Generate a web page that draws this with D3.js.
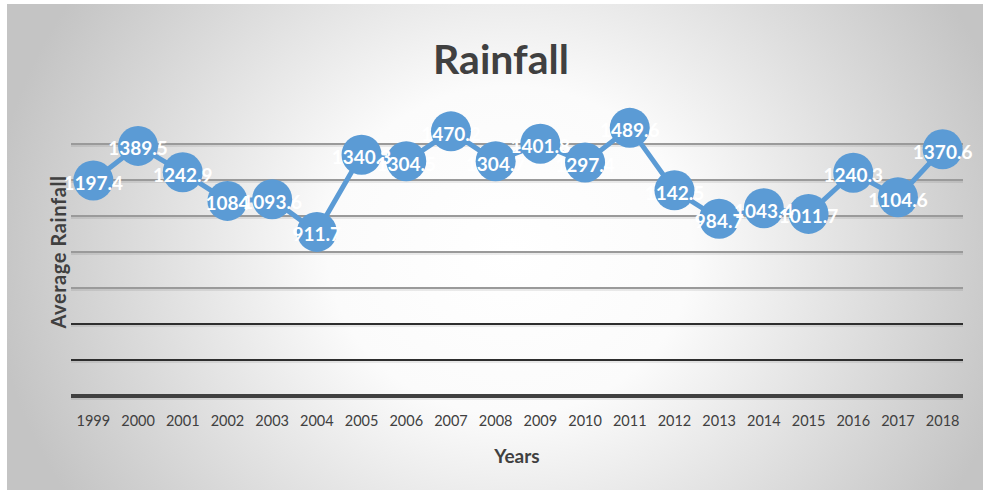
<!DOCTYPE html>
<html>
<head>
<meta charset="utf-8">
<script src="https://cdn.jsdelivr.net/npm/d3@7"></script>
<style>
  html, body { margin: 0; padding: 0; background: #ffffff; }
  svg { display: block; }
</style>
</head>
<body>
<svg id="chart" width="983" height="493"></svg>
<script>
// Annual average rainfall, 1999–2018
const years = ["1999","2000","2001","2002","2003","2004","2005","2006","2007","2008",
               "2009","2010","2011","2012","2013","2014","2015","2016","2017","2018"];
const rainfall = [1197.4, 1389.5, 1242.9, 1084, 1093.6, 911.7, 1340.3, 1304.5, 1470.2, 1304.7,
                  1401.8, 1297.4, 1489.6, 1142.5, 984.7, 1043.4, 1011.7, 1240.3, 1104.6, 1370.6];
const yTicks = [0, 200, 400, 600, 800, 1000, 1200, 1400];

const svg = d3.select("#chart");
const W = 983;
const FONT = "Lato, 'Open Sans', sans-serif";

// chart area background: soft gray edges fading to white in the middle
const defs = svg.append("defs");
const grad = defs.append("radialGradient")
  .attr("id", "bg").attr("gradientUnits", "userSpaceOnUse")
  .attr("cx", 510).attr("cy", 250).attr("r", 520)
  .attr("gradientTransform", "translate(510,250) scale(1,0.9) translate(-510,-250)");
grad.append("stop").attr("offset", "0%").attr("stop-color", "#ffffff");
grad.append("stop").attr("offset", "35%").attr("stop-color", "#fbfbfb");
grad.append("stop").attr("offset", "100%").attr("stop-color", "#c4c4c4");

svg.append("rect").attr("x", 7).attr("y", 4).attr("width", W - 7).attr("height", 486)
  .attr("fill", "url(#bg)");

const x = d3.scaleBand().domain(years).range([71, 965]);
const y = d3.scaleLinear().domain([0, 1400]).range([396, 144]);

// gridlines: light gray at the top, darker towards the baseline
const gridColor = v => v === 0 ? "#404040" : (v <= 400 ? "#2e2e2e" : "#9a9a9a");
const grid = svg.append("g");
grid.selectAll("line.shadow").data(yTicks).join("line")
  .attr("class", "shadow")
  .attr("x1", 71).attr("x2", 963)
  .attr("y1", d => y(d) + (d === 0 ? 3 : 2)).attr("y2", d => y(d) + (d === 0 ? 3 : 2))
  .attr("stroke", "#000").attr("stroke-opacity", 0.08).attr("stroke-width", 2);
grid.selectAll("line.main").data(yTicks).join("line")
  .attr("class", "main")
  .attr("x1", 71).attr("x2", 963)
  .attr("y1", d => y(d)).attr("y2", d => y(d))
  .attr("stroke", d => gridColor(d))
  .attr("stroke-width", d => d === 0 ? 4 : 2);

// category axis labels
const xAxis = d3.axisBottom(x).tickSize(0).tickPadding(0);
const gx = svg.append("g").attr("transform", "translate(0,416)").call(xAxis);
gx.select(".domain").remove();
gx.selectAll("text")
  .attr("font-family", FONT)
  .attr("font-size", 14.5)
  .attr("fill", "#404040")
  .attr("dy", "0.71em");

// series line
const cx = (d, i) => x(years[i]) + x.bandwidth() / 2;
const line = d3.line().x(cx).y(d => y(d));
svg.append("path").datum(rainfall)
  .attr("d", line)
  .attr("fill", "none")
  .attr("stroke", "#5b9bd5")
  .attr("stroke-width", 5)
  .attr("stroke-linejoin", "round");

// markers
svg.append("g").selectAll("circle").data(rainfall).join("circle")
  .attr("cx", cx).attr("cy", d => y(d)).attr("r", 20)
  .attr("fill", "#5b9bd5");

// value labels
svg.append("g").selectAll("text").data(rainfall).join("text")
  .attr("x", cx).attr("y", d => y(d) + 2)
  .attr("text-anchor", "middle")
  .attr("dominant-baseline", "central")
  .attr("font-family", FONT)
  .attr("font-weight", 700)
  .attr("font-size", 19)
  .attr("fill", "#ffffff")
  .text(d => d3.format(".1f")(d).replace(/\.0$/, ""));

// titles
svg.append("text")
  .attr("x", 501).attr("y", 74)
  .attr("text-anchor", "middle")
  .attr("font-family", FONT)
  .attr("font-weight", 700)
  .attr("font-size", 41)
  .attr("fill", "#404040")
  .text("Rainfall");

svg.append("text")
  .attr("x", 517).attr("y", 463)
  .attr("text-anchor", "middle")
  .attr("font-family", FONT)
  .attr("font-weight", 700)
  .attr("font-size", 19)
  .attr("fill", "#404040")
  .text("Years");

svg.append("text")
  .attr("transform", "translate(66,252) rotate(-90)")
  .attr("text-anchor", "middle")
  .attr("font-family", FONT)
  .attr("font-weight", 700)
  .attr("font-size", 20)
  .attr("letter-spacing", 0.6)
  .attr("fill", "#404040")
  .text("Average Rainfall");
</script>
</body>
</html>
